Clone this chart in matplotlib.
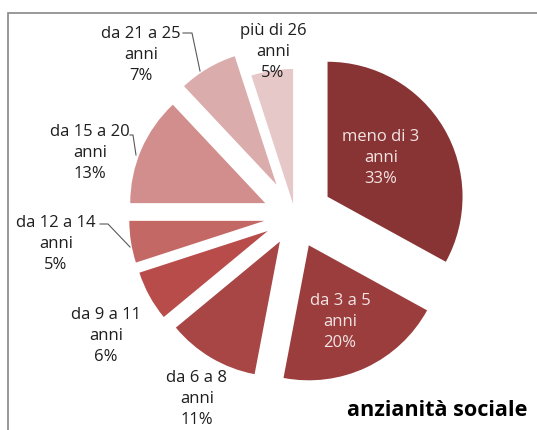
import matplotlib.pyplot as plt

# seniority groups and their share of members (%)
categories = ["meno di 3\nanni", "da 3 a 5\nanni", "da 6 a 8\nanni", "da 9 a 11\nanni",
              "da 12 a 14\nanni", "da 15 a 20\nanni", "da 21 a 25\nanni", "più di 26\nanni"]
shares = [33, 20, 11, 6, 5, 13, 7, 5]

colors = ["#893434", "#9b3d3d", "#a84545", "#b84c4a",
          "#c46866", "#d18e8c", "#dbacac", "#e6c8c9"]
# slice offsets as a fraction of the radius
explode = [0.28, 0.24, 0.22, 0.23, 0.23, 0.24, 0.27, 0.09]

W, H = 537, 430
R = 135


def px(x, y):
    # pixel position (origin top-left) -> axes data coordinates
    return x, H - y


fig = plt.figure(figsize=(W / 100, H / 100), dpi=100)
ax = fig.add_axes([0, 0, 1, 1])

# pie() takes explode in data units, so scale by the radius
wedges, _ = ax.pie(shares, colors=colors, explode=[e * R for e in explode],
                   startangle=90, counterclock=False, center=px(295, 216),
                   radius=R, wedgeprops=dict(linewidth=0))
ax.set_xlim(0, W)
ax.set_ylim(0, H)
ax.set_aspect("equal")
ax.axis("off")

# label block centres, first two sit inside their slice
label_pos = [(381, 158), (340, 322), (197, 399), (106, 336),
             (56, 244), (90, 153), (141, 55), (273, 52)]
for i, (cat, val) in enumerate(zip(categories, shares)):
    inside = i < 2
    ax.text(*px(*label_pos[i]), f"{cat}\n{val}%", ha="center", va="center",
            fontsize=12, family="Open Sans", linespacing=1.38,
            color="#f3e4e4" if inside else "#1e1e1e")

# leader lines for the small outer labels
leaders = [
    [(100, 224), (108, 224), (130, 247)],
    [(130, 135), (133, 135), (136, 155)],
    [(183, 33), (192, 33), (200, 71)],
]
for pts in leaders:
    xs, ys = zip(*[px(x, y) for x, y in pts])
    ax.plot(xs, ys, color="#595959", lw=0.8)

ax.text(*px(527, 411), "anzianità sociale", ha="right", va="center",
        fontsize=15.6, fontweight="bold", family="Open Sans", color="black")

# chart border (only top and left edges are visible)
ax.plot([8, 8, W], [0, H - 13, H - 13], color="#878787", lw=1.2,
        solid_joinstyle="miter", clip_on=False)

fig.savefig("out.png", dpi=100)
